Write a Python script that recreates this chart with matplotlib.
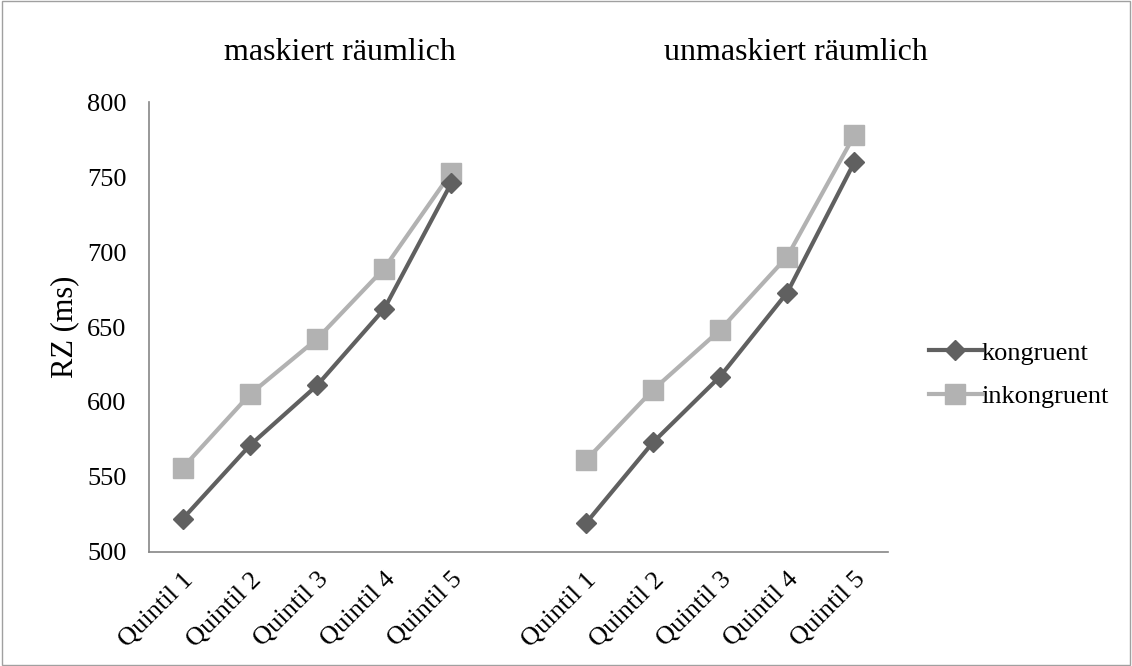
import numpy as np
import matplotlib.pyplot as plt
from matplotlib.patches import Rectangle

plt.rcParams["font.family"] = ["Liberation Serif", "DejaVu Serif"]

quintile_labels = ["Quintil 1", "Quintil 2", "Quintil 3", "Quintil 4", "Quintil 5"]
categories = quintile_labels + [""] + quintile_labels
group_titles = ["maskiert räumlich", "unmaskiert räumlich"]

kongruent_mask = [522, 571, 611, 662, 746]
kongruent_unmask = [519, 573, 617, 673, 760]
inkongruent_mask = [556, 605, 642, 689, 753]
inkongruent_unmask = [561, 608, 648, 697, 778]

kongruent = kongruent_mask + [np.nan] + kongruent_unmask
inkongruent = inkongruent_mask + [np.nan] + inkongruent_unmask

fig = plt.figure(figsize=(11.32, 6.66), dpi=100)
ax = fig.add_axes([0.1316, 0.1712, 0.6529, 0.6756])

x = np.arange(len(categories))
ax.plot(x, kongruent, color="#606060", lw=3, marker="D", ms=10,
        label="kongruent", zorder=3)
ax.plot(x, inkongruent, color="#b2b2b2", lw=3, marker="s", ms=14,
        label="inkongruent", zorder=2)

ax.set_xlim(-0.5, len(categories) - 0.5)
ax.set_ylim(500, 800)
ax.set_yticks(np.arange(500, 801, 50))
ax.set_xticks(x)
ax.set_xticklabels(categories, rotation=45, ha="right", rotation_mode="anchor",
                   fontsize=19)
ax.tick_params(axis="both", length=0)
ax.tick_params(axis="y", labelsize=19, pad=16)
ax.tick_params(axis="x", pad=12)
for s in ["top", "right"]:
    ax.spines[s].set_visible(False)
for s in ["left", "bottom"]:
    ax.spines[s].set_color("#868686")
    ax.spines[s].set_linewidth(1.2)

ax.set_ylabel("RZ (ms)", fontsize=22, labelpad=6)

fig.text(340 / 1132, 1 - 53 / 666, group_titles[0], fontsize=23, ha="center", va="center")
fig.text(796 / 1132, 1 - 53 / 666, group_titles[1], fontsize=23, ha="center", va="center")

ax.legend(loc="center left", bbox_to_anchor=(0.7995, 0.4375), bbox_transform=fig.transFigure,
          frameon=False, fontsize=19, handlelength=2.0, handletextpad=0.0,
          labelspacing=0.75)

fig.patches.append(Rectangle((0.002, 0.002), 0.996, 0.996, transform=fig.transFigure,
                             fill=False, edgecolor="#a0a0a0", lw=1))

fig.savefig("out.png", dpi=100, facecolor="white")
